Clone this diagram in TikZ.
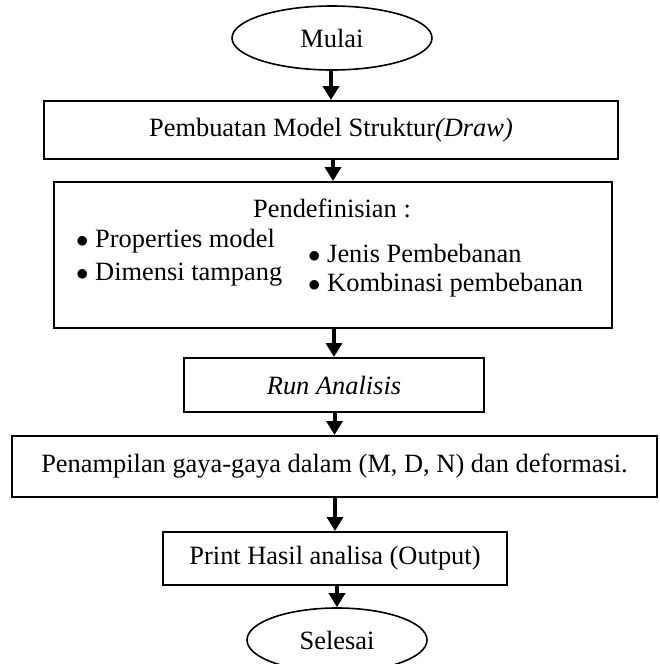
\documentclass[tikz,border=0pt]{standalone}
\usepackage{fontspec}
\setmainfont{Liberation Serif}
\usepackage{tikz}
\usetikzlibrary{arrows.meta}
\usetikzlibrary{shapes.geometric}

\begin{document}
\begin{tikzpicture}[x=1pt,y=-1pt,
        every node/.style={font=\fontsize{26.4}{32}\selectfont},
        procbox/.style={draw,line width=2pt,inner sep=0pt},
        termbox/.style={draw,ellipse,line width=1.6pt,inner sep=0pt},
        flow/.style={line width=4pt,-{Triangle[width=16pt,length=14pt]}}]
        \useasboundingbox (0,0) rectangle (659,664);
        \node[termbox,minimum width=200,minimum height=64] (mulai) at (332,38) {Mulai};
        \node[procbox,minimum width=574,minimum height=58] (model) at (331,130) {Pembuatan Model Struktur\textit{(Draw)}};
        \node[procbox,minimum width=558,minimum height=146] (defn) at (333,255) {};
        \node (defntitle) at (332,208) {Pendefinisian :};
        \node[anchor=west,inner sep=0pt] (prop) at (76,241) {$\bullet$ Properties model};
        \node[anchor=west,inner sep=0pt] (dim) at (76,275) {$\bullet$ Dimensi tampang};
        \node[anchor=west,inner sep=0pt] (jenis) at (308,253) {$\bullet$ Jenis Pembebanan};
        \node[anchor=west,inner sep=0pt] (komb) at (308,285) {$\bullet$ Kombinasi pembebanan};
        \node[procbox,minimum width=300,minimum height=54] (run) at (334,385) {\textit{Run Analisis}};
        \node[procbox,minimum width=645,minimum height=61] (tampil) at (334.5,466.5) {Penampilan gaya-gaya dalam (M, D, N) dan deformasi.};
        \node[procbox,minimum width=344,minimum height=53] (print) at (335,558.5) {Print Hasil analisa (Output)};
        \node[termbox,minimum width=180,minimum height=64] (selesai) at (337,640) {Selesai};
        \draw[flow] (mulai.south -| model.north) -- (model.north);
        \draw[flow] (model.south -| defn.north) -- (defn.north);
        \draw[flow] (defn.south -| run.north) -- (run.north);
        \draw[flow] (run.south -| tampil.north) -- (tampil.north);
        \draw[flow] (tampil.south -| print.north) -- (print.north);
        \draw[flow] (print.south -| selesai.north) -- (selesai.north);
    \end{tikzpicture}
\end{document}
